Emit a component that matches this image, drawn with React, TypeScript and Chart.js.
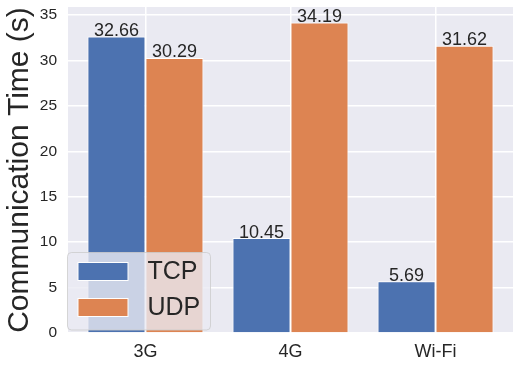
import React, { useEffect, useRef } from "react";
import { Chart, registerables } from "chart.js";

Chart.register(...registerables);

const categories = ["3G", "4G", "Wi-Fi"];
const seriesLabels = ["TCP", "UDP"];
const tcpValues = [32.66, 10.45, 5.69];
const udpValues = [30.29, 34.19, 31.62];
const yTicks = [0, 5, 10, 15, 20, 25, 30, 35];
const seriesColors = ["#4C72B0", "#DD8452"];

const FONT = "'Liberation Sans', Arial, 'DejaVu Sans', sans-serif";
const TEXT = "#262626";

const bgPlugin = {
  id: "bgPlugin",
  beforeDraw(chart: any) {
    const { ctx, chartArea } = chart;
    ctx.save();
    ctx.fillStyle = "#ffffff";
    ctx.fillRect(0, 0, chart.width, chart.height);
    ctx.fillStyle = "#EAEAF2";
    ctx.fillRect(chartArea.left, chartArea.top, chartArea.right - chartArea.left, chartArea.bottom - chartArea.top);
    ctx.restore();
  },
};

const labelPlugin = {
  id: "labelPlugin",
  afterDatasetsDraw(chart: any) {
    const { ctx } = chart;
    ctx.save();
    ctx.font = `18px ${FONT}`;
    ctx.fillStyle = TEXT;
    ctx.textAlign = "center";
    ctx.textBaseline = "alphabetic";
    chart.data.datasets.forEach((ds: any, di: number) => {
      const meta = chart.getDatasetMeta(di);
      meta.data.forEach((el: any, i: number) => {
        const v = ds.data[i].y;
        ctx.fillText(v.toFixed(2), el.x, el.y - 0.5);
      });
    });
    ctx.restore();
  },
};

const legendPlugin = {
  id: "legendPlugin",
  afterDraw(chart: any) {
    const { ctx, chartArea } = chart;
    const x = chartArea.left - 0.5;
    const y = chartArea.bottom - 80.5;
    const w = 143;
    const h = 77.5;
    const r = 4;
    ctx.save();
    ctx.beginPath();
    ctx.moveTo(x + r, y);
    ctx.lineTo(x + w - r, y);
    ctx.arcTo(x + w, y, x + w, y + r, r);
    ctx.lineTo(x + w, y + h - r);
    ctx.arcTo(x + w, y + h, x + w - r, y + h, r);
    ctx.lineTo(x + r, y + h);
    ctx.arcTo(x, y + h, x, y + h - r, r);
    ctx.lineTo(x, y + r);
    ctx.arcTo(x, y, x + r, y, r);
    ctx.closePath();
    ctx.fillStyle = "rgba(234,234,242,0.8)";
    ctx.fill();
    ctx.strokeStyle = "rgba(204,204,204,0.8)";
    ctx.lineWidth = 1;
    ctx.stroke();

    chart.data.datasets.forEach((ds: any, i: number) => {
      const py = y + 10 + i * 36;
      ctx.fillStyle = ds.backgroundColor;
      ctx.fillRect(x + 10.5, py, 50, 18);
      ctx.strokeStyle = "#ffffff";
      ctx.lineWidth = 1;
      ctx.strokeRect(x + 10.5, py, 50, 18);
      ctx.fillStyle = TEXT;
      ctx.font = `25px ${FONT}`;
      ctx.textAlign = "left";
      ctx.textBaseline = "middle";
      ctx.fillText(ds.label, x + 80, py + 10);
    });
    ctx.restore();
  },
};

export default function App() {
  const ref = useRef<HTMLCanvasElement | null>(null);

  useEffect(() => {
    if (!ref.current) return;
    const values = [tcpValues, udpValues];
    const chart = new Chart(ref.current, {
      type: "bar",
      data: {
        datasets: seriesLabels.map((label, si) => ({
          label,
          data: values[si].map((v, i) => ({ x: i, y: v })),
          backgroundColor: seriesColors[si],
          borderColor: "#ffffff",
          borderWidth: 1,
          categoryPercentage: 0.8,
          barPercentage: 1,
        })),
      },
      options: {
        responsive: false,
        maintainAspectRatio: false,
        animation: false,
        layout: { padding: { top: 7, right: 7, left: 0, bottom: 0 } },
        plugins: {
          legend: { display: false },
          tooltip: { enabled: false },
        },
        scales: {
          x: {
            type: "linear",
            min: -0.534,
            max: 2.534,
            offset: false,
            afterBuildTicks: (s: any) => {
              s.ticks = categories.map((_, i) => ({ value: i }));
            },
            afterFit: (s: any) => {
              s.height = 36;
              s.paddingLeft = 0;
              s.paddingRight = 0;
            },
            border: { display: false },
            grid: {
              offset: false,
              color: (c: any) =>
                c.tick && Number.isInteger(c.tick.value) ? "#ffffff" : "rgba(0,0,0,0)",
              lineWidth: 1.5,
              drawTicks: false,
            },
            ticks: {
              stepSize: 1,
              padding: 8,
              color: TEXT,
              font: { family: FONT, size: 18 },
              callback: (v: any) => {
                const n = Number(v);
                return Number.isInteger(n) && categories[n] ? categories[n] : "";
              },
            },
          },
          y: {
            type: "linear",
            min: 0,
            max: 35.9,
            afterBuildTicks: (s: any) => {
              s.ticks = yTicks.map((v) => ({ value: v }));
            },
            afterFit: (s: any) => {
              s.width = 68;
              s.paddingTop = 0;
              s.paddingBottom = 0;
            },
            border: { display: false },
            grid: {
              color: (c: any) =>
                c.tick && yTicks.includes(c.tick.value) ? "#ffffff" : "rgba(0,0,0,0)",
              lineWidth: 1.5,
              drawTicks: false,
            },
            ticks: {
              stepSize: 5,
              padding: 11,
              color: TEXT,
              font: { family: FONT, size: 15.5 },
              callback: (v: any) => (yTicks.includes(Number(v)) ? String(v) : ""),
            },
            title: {
              display: true,
              text: "Communication Time (s)",
              color: TEXT,
              font: { family: FONT, size: 30 },
              padding: { top: 2, bottom: 0 },
            },
          },
        },
      },
      plugins: [bgPlugin, labelPlugin, legendPlugin],
    });
    return () => chart.destroy();
  }, []);

  return (
    <div style={{ position: "fixed", left: 0, top: 0, width: 520, height: 369, background: "#fff" }}>
      <canvas ref={ref} width={520} height={369} style={{ display: "block", width: 520, height: 369 }} />
    </div>
  );
}
